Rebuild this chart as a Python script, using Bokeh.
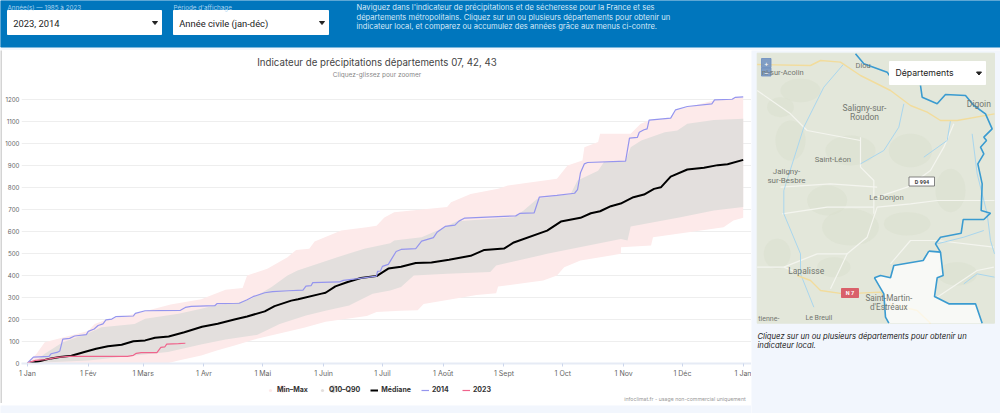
from bokeh.plotting import figure
from bokeh.layouts import column, row
from bokeh.models import (Range1d, FixedTicker, Legend, LegendItem, Label)
from bokeh.embed import file_html
from bokeh.resources import INLINE

# ---------- data ----------
month_days = [0, 31, 59, 90, 120, 151, 181, 212, 243, 273, 304, 334, 365]
month_labels = ["1 Jan", "1 Fév", "1 Mars", "1 Avr", "1 Mai", "1 Juin", "1 Juil", "1 Août", "1 Sept", "1 Oct", "1 Nov", "1 Déc", "1 Jan"]
y_ticks = list(range(0, 1300, 100))

d2014 = [0,3,11,12,15,16.5,18,21.5,24,30,31,34,36,38.5,40,43,45,54,55,60,78,80.5,83.5,95.5,96.6,108,112,115,121,125,133,140.5,142,144.6,145.5,159,161,168.5,178,178.5,180,181,184,188,190.5,198,201,207,209,213,218,220,223,240,249,251,258.4,261,270,279,280.5,282,284,285.6,305,307,311,312,314.4,316,317,328,330.5,336.5,349,350.4,359.4,361,365]
v2014 = [0,27,30,42,48,55,109,112,123,129,144,155,171,178,196,200,211,214,226,238,240,253,258,261,270,272,288,302,320,325,329,332,350,352,366,369,376,384,396,417,419,440,449,508,517,521,555,571,597,622,628,646,660,667,670,681,684,755,763,773,789,866,907,913,919,1024,1027,1051,1062,1066,1106,1115,1153,1168,1180,1198,1201,1210,1212]

d2023 = [0,4,9,15,21,51,54,55.5,58,66,68,70,71,77,80.5]
v2023 = [0,12,15,26,30,30,35,44,47,47,71,73,86,88,90]

d_med = [0,5,12,16.5,22.4,29,35,41,48,54,60,65,72,80,89,97,106,112,121,126,134.5,138,150,152,157,163.3,170,178,184,190.5,198,206,215,226,233,243,248,265,272,282,287.3,292,297.5,302.5,309,314.4,319.5,323,328,336.5,345,352,357,365]
v_med = [0,6,21,27,33,50,65,76,83,99,103,115,121,140,165,179,199,212,235,259,284,290,316,320,349,369,387,396,430,438,455,458,470,488,515,521,549,603,644,661,682,691,714,726,755,767,793,800,849,881,889,901,905,925]

d_q90 = [0,4.6,8.8,18,31,37.7,54.6,60,77,88.6,95.4,108,114,124.3,132.6,137.7,158,171.8,185,187,201,209,219,248,253,260,277,280.5,291,294,305,307.6,313,325,331.4,336.5,350,365]
v_q90 = [0,11,42,95,135,163,178,201,224,247,262,277,292,345,398,421,482,520,545,558,573,603,646,664,694,748,770,831,876,915,919,983,1013,1051,1059,1089,1107,1112]
d_q10 = [0,14,31,54.6,71.6,89,101,117,128.6,142,152.5,164,176,185,190.5,197,214,236,239,265,302.6,306,307.6,333,350,365]
v_q10 = [0,4,11,34,50,85,107,128,178,216,239,262,315,330,346,398,406,414,444,497,565,558,622,664,694,710]

d_max = [0,4.6,8.8,15.6,31,34.3,39,55,73,88.6,101,109.7,112,122.3,132.6,137,143.7,146.4,160,173,178,182,187,214,216,226,240,245,270,275.4,283,284,291,292,307.6,312.7,317,328,330.5,336.5,350,365]
v_max = [0,42,95,110,146,178,193,224,266,290,333,342,398,429,482,515,520,553,603,618,625,663,687,710,732,770,793,808,839,899,922,983,1006,1044,1044,1089,1104,1115,1150,1165,1195,1210]
d_min = [0,72,77,88.6,97,105.6,117,141,152,173,178,190,199,202,229,239,240,263,270,273.7,282,302.6,302.7,318,319,338,355,360,365]
v_min = [0,0,11,34,58,80,110,160,188,214,232,238,240,269,310,318,348,376,398,436,467,497,527,535,573,596,618,649,661]

legend_labels = ["Min–Max", "Q10–Q90", "Médiane", "2014", "2023"]

BLUE = "#0076bd"
PAGE = "#f2f6fd"
UI = "Inter"
C_RANGE, C_Q, C_MED, C_14, C_23 = "#fdeaea", "#e3dfdd", "black", "#9595ee", "#f0648c"

# ---------- header ----------
def bare(w, h, x0, x1, y0, y1, fill):
    f = figure(width=w, height=h, x_range=Range1d(x0, x1), y_range=Range1d(y1, y0),
               output_backend="svg", toolbar_location=None, min_border=0,
               background_fill_color=fill, border_fill_color=fill, outline_line_color=None)
    f.axis.visible = False
    f.grid.visible = False
    return f

def txt(f, x, y, s, size, color, font=UI, style="normal", align="left"):
    f.add_layout(Label(x=x, y=y, text=s, text_font=font, text_font_size=f"{size}px", text_color=color,
                       text_font_style=style, text_align=align, text_baseline="middle"))

head = bare(1000, 50, 0, 1000, 0, 50, PAGE)
head.quad(left=[0], right=[1000], top=[0], bottom=[46.5], color=BLUE)
for x0, x1, lab, val in [(7, 161, "Année(s) — 1985 à 2023", "2023, 2014"),
                         (173, 328, "Période d'affichage", "Année civile (jan-déc)")]:
    head.quad(left=[x0], right=[x1], top=[10], bottom=[34], color="white")
    txt(head, x0, 7, lab, 6.3, "#a9d3f0")
    txt(head, x0 + 5.7, 22.5, val, 9.4, "#222222", font="Roboto")
    head.patch([x1 - 9, x1 - 4, x1 - 6.5], [21, 21, 24], color="#222222")
for y, s in [(7, "Naviguez dans l'indicateur de précipitations et de sécheresse pour la France et ses"),
             (16.5, "départements métropolitains. Cliquez sur un ou plusieurs départements pour obtenir un"),
             (26, "indicateur local, et comparez ou accumulez des années grâce aux menus ci-contre.")]:
    txt(head, 356, y, s, 7.6, "#d6e9f8")

# ---------- chart ----------
px_per_val = 0.2196
px_per_day = 1.9636
frame_w, frame_h = 731, 313
x_start = -6 / px_per_day
y_start = -0.5 / px_per_val
p = figure(width=749, height=331, output_backend="svg", toolbar_location=None,
           x_range=Range1d(x_start, x_start + frame_w / px_per_day),
           y_range=Range1d(y_start, y_start + frame_h / px_per_val),
           min_border_left=18, min_border_right=0, min_border_top=0, min_border_bottom=18,
           outline_line_color=None, border_fill_color="white", background_fill_color="white")
p.xaxis.ticker = FixedTicker(ticks=month_days)
p.xaxis.major_label_overrides = dict(zip(month_days, month_labels))
p.yaxis.ticker = FixedTicker(ticks=y_ticks)
p.xgrid.visible = False
p.ygrid.grid_line_color = "#eeeeee"
p.ygrid.grid_line_width = 1
p.yaxis.axis_line_color = None
p.yaxis.major_tick_line_color = None
p.yaxis.minor_tick_line_color = None
p.xaxis.minor_tick_line_color = None
p.xaxis.axis_line_color = "#e6ebf5"
p.xaxis.axis_line_width = 2
p.xaxis.major_tick_line_color = "#ccd6eb"
p.xaxis.major_tick_in = 0
p.xaxis.major_tick_out = 3
p.yaxis.major_tick_in = 0
p.yaxis.major_tick_out = 0
for ax in (p.xaxis, p.yaxis):
    ax.major_label_text_font = UI
    ax.major_label_text_color = "#666666"
p.xaxis.major_label_text_font_size = "7px"
p.yaxis.major_label_text_font_size = "6.2px"
p.xaxis.major_label_standoff = 2
p.yaxis.major_label_standoff = 2

p.patch(d_min + d_max[::-1], v_min + v_max[::-1], color=C_RANGE, line_color=None)
p.patch(d_q10 + d_q90[::-1], v_q10 + v_q90[::-1], color=C_Q, line_color=None)
p.line(d_med, v_med, color=C_MED, line_width=2)
p.line(d2014, v2014, color=C_14, line_width=1.2)
p.line(d2023, v2023, color=C_23, line_width=1.2)

def chart_label(x, y, s, size, color, align="left"):
    p.add_layout(Label(x=x, y=y, x_units="data", y_units="data", text=s, text_font=UI, text_font_size=f"{size}px",
                       text_color=color, text_align=align, text_baseline="middle"))

chart_label((376 - 26) / px_per_day, (362.5 - 62) / px_per_val, "Indicateur de précipitations départements 07, 42, 43", 9.7, "#444444", "center")
chart_label((376 - 26) / px_per_day, (362.5 - 74.5) / px_per_val, "Cliquez-glissez pour zoomer", 6.5, "#888888", "center")

# ---------- legend band under the chart ----------
lg = bare(749, 22, 0, 749, 0, 22, "white")
lg.scatter([268], [7.5], marker="circle", size=7, fill_color=C_RANGE, line_color=C_RANGE, level="overlay")
lg.scatter([320], [7.5], marker="circle", size=7, fill_color=C_Q, line_color=C_Q, level="overlay")
r_a = lg.scatter([-50], [5], marker="circle", size=3, color=C_RANGE, line_color=None)
r_b = lg.scatter([-50], [5], marker="circle", size=3, color=C_Q, line_color=None)
r_m = lg.line([-60, -50], [5, 5], color=C_MED, line_width=2)
r_1 = lg.line([-60, -50], [5, 5], color=C_14, line_width=1.2)
r_2 = lg.line([-60, -50], [5, 5], color=C_23, line_width=1.2)
legend = Legend(items=[LegendItem(label=l, renderers=[r]) for l, r in zip(legend_labels, [r_a, r_b, r_m, r_1, r_2])],
                orientation="horizontal", location=(245, 9), background_fill_color=None,
                border_line_color=None, label_text_font=UI, label_text_font_size="7px",
                label_text_font_style="bold", label_text_color="#333333",
                glyph_width=8, glyph_height=8, spacing=10, padding=0, margin=0, label_standoff=3)
lg.add_layout(legend, "center")
txt(lg, 743, 17, "infoclimat.fr - usage non-commercial uniquement", 5.2, "#999999", align="right")

edge = bare(2, 353, 0, 2, 0, 353, "#d4d4d4")
strip = bare(751, 10, 0, 751, 0, 10, PAGE)

# ---------- map panel (background picture, in reference pixel coordinates) ----------
m = bare(249, 363, 751, 1000, 50, 413, PAGE)
def zx(a): return [750 + v / 3 for v in a]
def zy(a): return [40 + v / 3 for v in a]
def pline(pts, color, w, alpha=1.0):
    m.line(zx([q[0] for q in pts]), zy([q[1] for q in pts]), line_color=color, line_width=w, line_alpha=alpha)

m.quad(left=[756.7], right=[994], top=[52.7], bottom=[322.7], color="#e3e7da")
for X, Y, W, H in [(150,150,120,70),(300,330,150,90),(120,300,90,120),(480,330,130,100),(300,560,170,110),
                   (600,450,90,130),(230,480,120,90),(470,550,140,70),(80,640,80,90),(620,700,120,70),(90,200,80,60),(250,680,100,60)]:
    m.ellipse([750 + X / 3], [40 + Y / 3], width=W / 3, height=H / 3, color="#d9e0cd", alpha=0.5, line_color=None)

white_roads = [
    [(240,745),(290,640),(350,590),(380,500),(480,490),(560,480),(732,480)],
    [(20,150),(120,220),(170,270),(330,300)],
    [(370,520),(370,420),(330,380),(330,290)],
    [(610,250),(580,320),(540,390),(470,440),(380,470)],
    [(95,520),(230,500),(370,500)],
    [(100,680),(200,640),(290,640)],
    [(420,670),(480,600),(560,600),(730,620)],
    [(380,440),(240,430),(90,440)],
    [(20,680),(100,680),(150,700)],
    [(560,770),(680,690),(730,680)],
]
for r in white_roads:
    pline(r, "#f4f5ef", 1.2)
rivers = [
    [(280,70),(220,140),(160,260),(100,450),(100,520),(150,640),(150,700),(190,800)],
    [(460,190),(445,260),(400,330),(330,370)],
    [(665,280),(680,400),(710,520),(720,600),(732,640)],
    [(600,240),(590,300),(520,350)],
    [(560,610),(640,590),(700,570)],
    [(640,730),(680,700),(732,710)],
]
for r in rivers:
    pline(r, "#a9d6ee", 1)
pline([(20,72),(180,75),(210,60),(270,65),(330,105),(420,150),(480,195),(530,215),(570,240),(620,240),(732,220)], "#f2dc9c", 1.4)
pline([(140,705),(180,720),(210,750),(280,760),(390,755),(420,790),(500,810),(540,848)], "#f2dc9c", 1.4)

sel = [(535,632),(570,635),(578,705),(560,712),(552,768),(595,790),(675,790),(695,848),(415,848),(405,830),(400,760),(372,712),(390,705),(420,712),(430,675),(518,660)]
m.patch(zx([q[0] for q in sel]), zy([q[1] for q in sel]), color="white", alpha=0.75, line_color=None)
BORDER = "#3a9bd0"
pline(sel[:8], BORDER, 1.6)
pline(sel[8:] + sel[:1], BORDER, 1.6)
pline([(315,40),(340,70),(410,95),(420,110)], BORDER, 1.6)
pline([(510,135),(515,170),(560,190),(585,162),(645,165),(670,195),(705,220),(725,265),(700,290),(708,300),(690,320),(700,340),(682,370),(695,430),(692,510),(720,518),(700,537),(638,537),(632,578),(570,590),(555,610),(570,635)], BORDER, 1.6)

NAME = "#72766f"
for X, Y, s, size in [(338,76,"Diou",7.5),(97,95,"ni-sur-Acolin",7.5),(342,203,"Saligny-sur-",8.5),(342,230,"Roudon",8.5),
                      (247,357,"Saint-Léon",7.7),(108,393,"Jaligny-",8),(108,421,"sur-Besbre",8),(408,472,"Le Donjon",7.7),
                      (167,692,"Lapalisse",8.5),(415,771,"Saint-Martin-",8.2),(415,798,"d'Estréaux",8.2),(205,833,"Le Breuil",7),
                      (55,835,"tienne-",7),(685,190,"Digoin",8.5)]:
    txt(m, 750 + X / 3, 40 + Y / 3, s, size, NAME, font="Roboto", align="center")

# road shields
m.quad(left=[908.5], right=[934], top=[176.5], bottom=[185.5], fill_color="white", line_color="#666666", line_width=0.8)
txt(m, 921.5, 181, "D 994", 5.5, "#444444", font="Roboto", style="bold", align="center")
m.quad(left=[841], right=[858], top=[288], bottom=[297], color="#d9606a")
txt(m, 849.5, 292.7, "N 7", 5.5, "white", font="Roboto", style="bold", align="center")

# zoom buttons
m.quad(left=[761, 761], right=[770.5, 770.5], top=[58, 67.5], bottom=[67, 75.5], color="#6f8fc0", alpha=0.85)
txt(m, 765.7, 62.5, "+", 7, "white", align="center")
txt(m, 765.7, 71.5, "−", 7, "white", align="center")

# dropdown
m.quad(left=[889], right=[985], top=[61], bottom=[84], color="white")
txt(m, 895, 72.7, "Départements", 8.7, "#222222")
m.patch([976, 981, 978.5], [71.5, 71.5, 74.5], color="#222222")

# caption
txt(m, 757, 335.5, "Cliquez sur un ou plusieurs départements pour obtenir un", 7.7, "#222222", style="italic")
txt(m, 757, 344.5, "indicateur local.", 7.7, "#222222", style="italic")

root = column(head, row(column(row(edge, column(p, lg, spacing=0), spacing=0), strip, spacing=0), m, spacing=0), spacing=0)
open("out.html", "w").write(file_html(root, INLINE))
